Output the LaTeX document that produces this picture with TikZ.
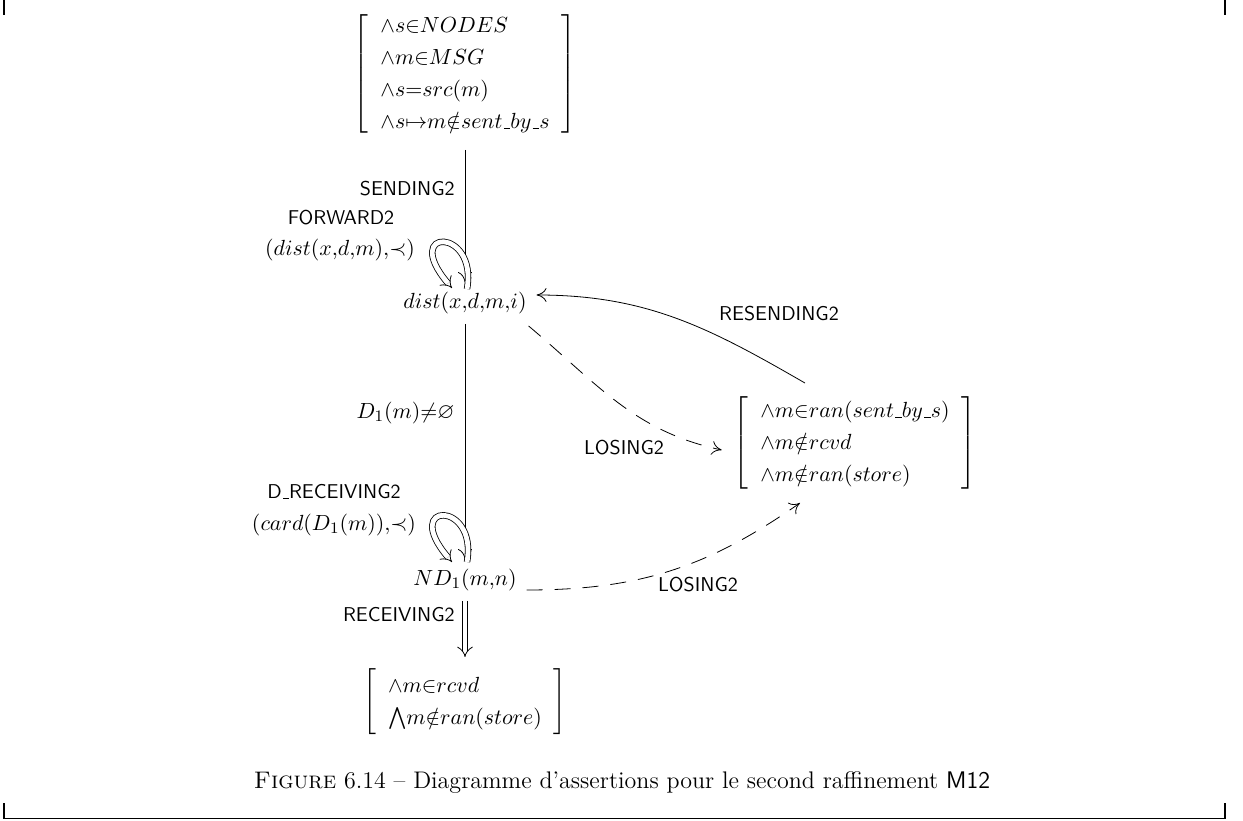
\documentclass[tikz,border=0pt]{standalone}
\usepackage{amsmath,amssymb}
\usetikzlibrary{arrows.meta}
\newcommand{\us}{\leavevmode\kern.06em\vbox{\hrule width.3em}}
\newcommand{\abox}[1]{$\renewcommand{\arraystretch}{1.23}\left[\begin{array}{@{\hspace{6pt}}l@{\hspace{6pt}}}#1\end{array}\right]$}
\begin{document}
\begin{tikzpicture}[x=0.5pt,y=0.5pt,
  lab/.style={font=\sffamily, inner sep=1pt},
  mlab/.style={inner sep=1pt, font=\fontsize{11}{13}\selectfont},
  box/.style={inner sep=0pt, outer sep=6pt, font=\fontsize{11}{13}\selectfont},
  st/.style={inner sep=1pt, outer sep=4pt, font=\fontsize{11}{13}\selectfont},
  arr/.style={-{To[length=5pt,width=7pt]}},
  dbl/.style={double, double distance=2.4pt, -{Implies}},
  lose/.style={dash pattern=on 8pt off 6pt, -{To[length=5pt,width=7pt]}},
  frame/.style={line width=0.7pt}]
\useasboundingbox (0,0) rectangle (1243,820);
% frame marks
\draw[frame] (4,820) -- (4,805);
\draw[frame] (1225,820) -- (1225,805);
\draw[frame] (4,17) -- (4,1.5) -- (1225,1.5) -- (1225,17);
% states
\node[box] (top) at (465,746) {\abox{{\wedge}s{\in}NODES\\ {\wedge}m{\in}MSG\\ {\wedge}s{=}src(m)\\ {\wedge}s{\mapsto}m{\notin}sent\mbox{\us}by\mbox{\us}s}};
\node[st] (dist) at (465,517) {$dist(x{,}d{,}m{,}i)$};
\node[st] (nd) at (465,240) {$ND_1(m{,}n)$};
\node[box] (bot) at (465,118) {\abox{{\wedge}m{\in}rcvd\\ {\textstyle\bigwedge}m{\notin}ran(store)}};
\node[box] (rb) at (855,377) {\abox{{\wedge}m{\in}ran(sent\mbox{\us}by\mbox{\us}s)\\ {\wedge}m{\notin}rcvd\\ {\wedge}m{\notin}ran(store)}};
% labels
\node[lab, anchor=east] (lsend) at (457,631) {SENDING2};
\node[lab] (lfwd) at (341,602) {FORWARD2};
\node[mlab] (lfwdv) at (340,570) {$(dist(x{,}d{,}m){,}{\prec})$};
\node[lab] (lresend) at (779,506) {RESENDING2};
\node[mlab, anchor=east] (lguard) at (457,407) {$D_1(m){\neq}\varnothing$};
\node[lab] (ldrec) at (334,328) {D\us RECEIVING2};
\node[mlab] (ldrecv) at (334,295) {$(card(D_1(m)){,}{\prec})$};
\node[lab, anchor=east] (lrec) at (457,205) {RECEIVING2};
\node[lab] (llose1) at (624,372) {LOSING2};
\node[lab] (llose2) at (698,235) {LOSING2};
\node (cap) at (622,37) {\fontsize{12}{14}\selectfont\textsc{Figure} 6.14 \textendash{} Diagramme d'assertions pour le second raffinement \textsf{M12}};
% connectors
\draw[arr] (top) -- (dist);
\draw[arr] (dist) -- (nd);
\draw[dbl] (nd) -- (bot);
\draw[dbl] ([shift={(2,14)}]dist.center) .. controls +(11,62) and +(-52,61) .. ([shift={(-13,15)}]dist.center);
\draw[dbl] ([shift={(2,18)}]nd.center) .. controls +(11,62) and +(-52,61) .. ([shift={(-13,18)}]nd.center);
\coordinate (rsA) at ([shift={(-50,0)}]rb.north);
\coordinate (rsB) at ([shift={(0,8)}]dist.east);
\draw[arr] (rsA) to[out=150,in=0] (rsB);
\coordinate (lsA) at ([shift={(-8,-2)}]dist.south east);
\coordinate (lsC) at ([shift={(0,-7)}]rb.west);
\draw[lose] (lsA) to[out=-40,in=168] (lsC);
\coordinate (lsD) at ([shift={(0,-10)}]nd.east);
\coordinate (lsB) at ([shift={(-55,0)}]rb.south);
\draw[lose] (lsD) to[out=0,in=-145] (lsB);
\end{tikzpicture}
\end{document}
